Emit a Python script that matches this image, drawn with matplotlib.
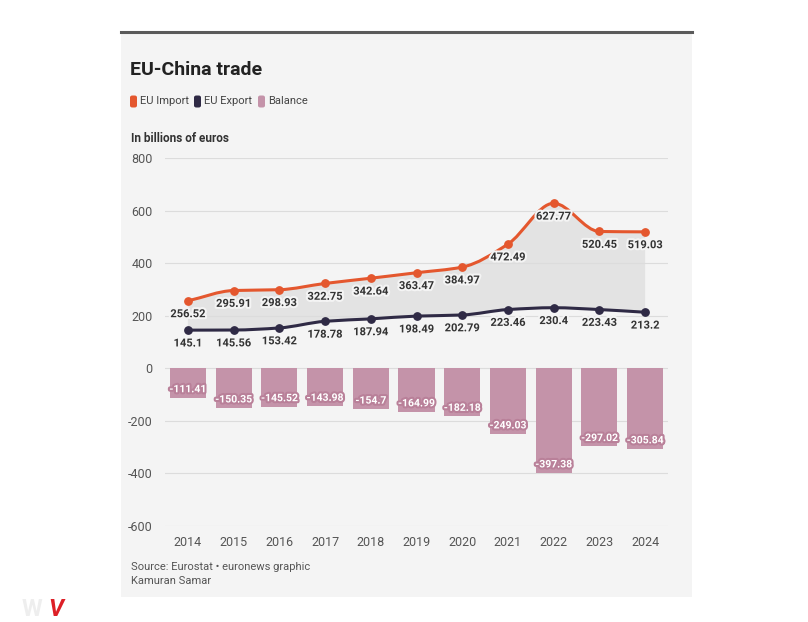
import matplotlib.pyplot as plt
import matplotlib.patheffects as pe
from matplotlib.path import Path
from matplotlib.patches import PathPatch, FancyBboxPatch
import numpy as np

plt.rcParams['font.family'] = ['Roboto', 'DejaVu Sans']
plt.rcParams['axes.unicode_minus'] = False

# data (billions of euros)
years = ['2014', '2015', '2016', '2017', '2018', '2019', '2020', '2021', '2022', '2023', '2024']
eu_import = [256.52, 295.91, 298.93, 322.75, 342.64, 363.47, 384.97, 472.49, 627.77, 520.45, 519.03]
eu_export = [145.1, 145.56, 153.42, 178.78, 187.94, 198.49, 202.79, 223.46, 230.4, 223.43, 213.2]
balance = [-111.41, -150.35, -145.52, -143.98, -154.7, -164.99, -182.18, -249.03, -397.38, -297.02, -305.84]

c_imp = '#e4572e'
c_exp = '#2f2a45'
c_bal = '#c493a9'
panel = '#f4f4f4'


def monotone_path(x, y):
    # monotone cubic curve as bezier segments (just for the smooth look)
    x = np.asarray(x, float)
    y = np.asarray(y, float)
    h = np.diff(x)
    d = np.diff(y) / h
    m = np.zeros_like(y)
    m[0], m[-1] = d[0], d[-1]
    for i in range(1, len(y) - 1):
        if d[i - 1] * d[i] <= 0:
            m[i] = 0
        else:
            m[i] = 2 / (1 / d[i - 1] + 1 / d[i])
    verts = [(x[0], y[0])]
    codes = [Path.MOVETO]
    for i in range(len(x) - 1):
        verts += [(x[i] + h[i] / 3, y[i] + m[i] * h[i] / 3),
                  (x[i + 1] - h[i] / 3, y[i + 1] - m[i + 1] * h[i] / 3),
                  (x[i + 1], y[i + 1])]
        codes += [Path.CURVE4] * 3
    return verts, codes


fig = plt.figure(figsize=(8.08, 6.22), dpi=100)
fig.patch.set_facecolor('white')

# grey card behind the chart
fig.patches.append(FancyBboxPatch((121 / 808, 1 - 597 / 622), 571 / 808, 564 / 622,
                                  boxstyle='square,pad=0', transform=fig.transFigure,
                                  facecolor=panel, edgecolor='none', zorder=-10))
fig.add_artist(plt.Line2D([121 / 808, 692 / 808], [1 - 32 / 622, 1 - 32 / 622],
                          transform=fig.transFigure, color='#5a5a5a', lw=2.2))

ax = fig.add_axes([165 / 808, 1 - 526 / 622, 503 / 808, 368 / 622])
ax.set_facecolor(panel)
x = np.arange(len(years))

# bars
ax.bar(x, balance, width=0.79, color=c_bal, zorder=2)

# shaded area between the two curves
vi, ci = monotone_path(x, eu_import)
ve, ce = monotone_path(x, eu_export)
ve_rev = ve[::-1]
area_verts = vi + ve_rev + [vi[0]]
area_codes = ci + [Path.LINETO] + [Path.CURVE4] * (len(ve_rev) - 1) + [Path.CLOSEPOLY]
ax.add_patch(PathPatch(Path(area_verts, area_codes), facecolor='#e3e3e3', edgecolor='none', zorder=1))

ax.add_patch(PathPatch(Path(vi, ci), facecolor='none', edgecolor=c_imp, lw=2.2, zorder=3))
ax.add_patch(PathPatch(Path(ve, ce), facecolor='none', edgecolor=c_exp, lw=2.2, zorder=3))
ax.scatter(x, eu_import, s=28, color=c_imp, zorder=4)
ax.scatter(x, eu_export, s=28, color=c_exp, zorder=4)

halo = [pe.withStroke(linewidth=3, foreground=panel)]
for i in range(len(x)):
    ax.annotate(f'{eu_import[i]:g}', (x[i], eu_import[i]), xytext=(0, -6), textcoords='offset points',
                ha='center', va='top', fontsize=8, fontweight='bold', color='#333333',
                path_effects=halo, zorder=5)
    ax.annotate(f'{eu_export[i]:g}', (x[i], eu_export[i]), xytext=(0, -6), textcoords='offset points',
                ha='center', va='top', fontsize=8, fontweight='bold', color='#333333',
                path_effects=halo, zorder=5)
    ax.annotate(f'{balance[i]:g}', (x[i], balance[i]), xytext=(0, 6), textcoords='offset points',
                ha='center', va='center', fontsize=7.5, fontweight='bold', color='white',
                path_effects=[pe.withStroke(linewidth=3, foreground='#b98099')], zorder=5)

ax.set_xlim(-0.5, len(years) - 0.5)
ax.set_ylim(-600, 800)
ax.set_yticks([-600, -400, -200, 0, 200, 400, 600, 800])
ax.set_xticks(x)
ax.set_xticklabels(years)
ax.grid(axis='y', color='#dcdcdc', lw=0.8, zorder=0)
ax.tick_params(length=0, labelsize=9, colors='#555555', pad=9)
ax.tick_params(axis='x', pad=7)
for s in ax.spines.values():
    s.set_visible(False)

# titles and legend
fig.text(130 / 808, 1 - 70 / 622, 'EU-China trade', fontsize=14, fontweight='bold',
         color='#222222', va='center')
lx = [130, 194, 258]
names = ['EU Import', 'EU Export', 'Balance']
cols = [c_imp, c_exp, c_bal]
for px, nm, cl in zip(lx, names, cols):
    fig.patches.append(FancyBboxPatch((px / 808, 1 - 107.5 / 622), 7 / 808, 12 / 622,
                                      boxstyle='round,pad=0,rounding_size=0.003',
                                      transform=fig.transFigure, facecolor=cl, edgecolor='none'))
    fig.text((px + 10) / 808, 1 - 101.5 / 622, nm, fontsize=8, color='#444444', va='center')
fig.text(131 / 808, 1 - 138 / 622, 'In billions of euros', fontsize=8.5, fontweight='bold',
         color='#333333', va='center')

fig.text(131 / 808, 1 - 567 / 622, 'Source: Eurostat \u2022 euronews graphic', fontsize=8,
         color='#555555', va='center')
fig.text(131 / 808, 1 - 581 / 622, 'Kamuran Samar', fontsize=8, color='#555555', va='center')

# small logo bottom left
fig.text(22 / 808, 1 - 609 / 622, 'W', fontsize=17, fontweight='bold', color='#eeeeee', va='center')
fig.text(48 / 808, 1 - 609 / 622, 'V', fontsize=17, fontweight='bold', style='italic',
         color='#dd1f26', va='center')

fig.savefig('out.png', dpi=100, facecolor='white')
